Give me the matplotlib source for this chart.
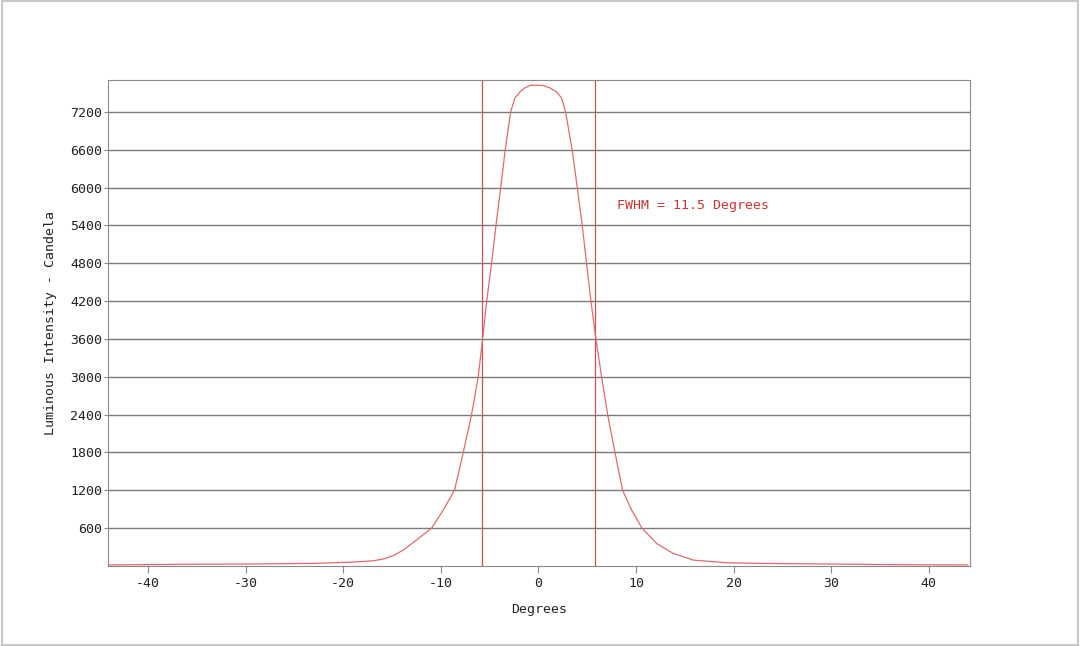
import numpy as np
import matplotlib
matplotlib.use("Agg")
import matplotlib.pyplot as plt

# angle (deg) and luminous intensity (cd)
deg = [-44, -36.7, -29.9, -23.1, -19.6, -16.9, -15.9, -14.9, -13.85, -12.5,
       -10.94, -9.75, -8.6, -7.7, -6.85, -6.17, -5.72, -5.3, -4.8, -4.35,
       -3.87, -3.4, -2.85, -2.41, -1.9, -1.38, -0.87, -0.2, 0.5, 1.18, 1.86,
       2.37, 2.78, 3.45, 3.98, 4.49, 4.93, 5.38, 5.89, 6.47, 7.09, 7.84, 8.62,
       9.55, 10.6, 12.1, 13.8, 15.86, 19.3, 22.7, 29.5, 36.3, 44]
cd = [15, 25, 30, 40, 56, 81, 110, 160, 251, 410,
      600, 886, 1200, 1800, 2400, 3000, 3600, 4200, 4800, 5400,
      6000, 6600, 7200, 7422, 7517, 7581, 7620, 7625, 7620, 7581, 7517,
      7422, 7200, 6600, 6000, 5400, 4800, 4200, 3600, 3000, 2400, 1800, 1200,
      886, 600, 357, 199, 92, 50, 40, 30, 20, 15]
fwhm = 11.5
yticks = [600, 1200, 1800, 2400, 3000, 3600, 4200, 4800, 5400, 6000, 6600, 7200]
xticks = [-40, -30, -20, -10, 0, 10, 20, 30, 40]

plt.rcParams['font.family'] = ['DejaVu Sans Mono']
plt.rcParams['axes.unicode_minus'] = False
fig = plt.figure(figsize=(10.8, 6.46), dpi=100)
fig.patches.append(plt.Rectangle((0.002, 0.002), 0.996, 0.996, transform=fig.transFigure,
                                 fill=False, edgecolor='#c8c8c8', lw=1.5))
ax = fig.add_axes([0.1, 0.124, 0.798, 0.752])

ax.plot(deg, cd, color='#e06a6a', lw=0.9, zorder=3)
ax.axvline(-fwhm / 2, color='#d05050', lw=0.9, zorder=2)
ax.axvline(fwhm / 2, color='#d05050', lw=0.9, zorder=2)
ax.text(8.0, 5710, 'FWHM = %.1f Degrees' % fwhm, color='#d03030', fontsize=9.5,
        va='center', ha='left')

ax.set_xlim(-44.1, 44.2)
ax.set_ylim(0, 7705)
ax.set_xticks(xticks)
ax.set_yticks(yticks)
ax.yaxis.grid(True, color='#7a7a7a', lw=1)
ax.set_axisbelow(True)
for s in ax.spines.values():
    s.set_color('#8a8a8a')
ax.tick_params(axis='both', colors='#8a8a8a', labelcolor='#222222', labelsize=9.5)
ax.tick_params(axis='x', length=5, pad=3)
ax.tick_params(axis='y', length=3, pad=1)

ax.set_xlabel('Degrees', fontsize=9.5, color='#222222', labelpad=9)
ax.set_ylabel('Luminous Intensity - Candela', fontsize=9.5, color='#222222', labelpad=10)

fig.savefig('out.png', dpi=100, facecolor='white')
